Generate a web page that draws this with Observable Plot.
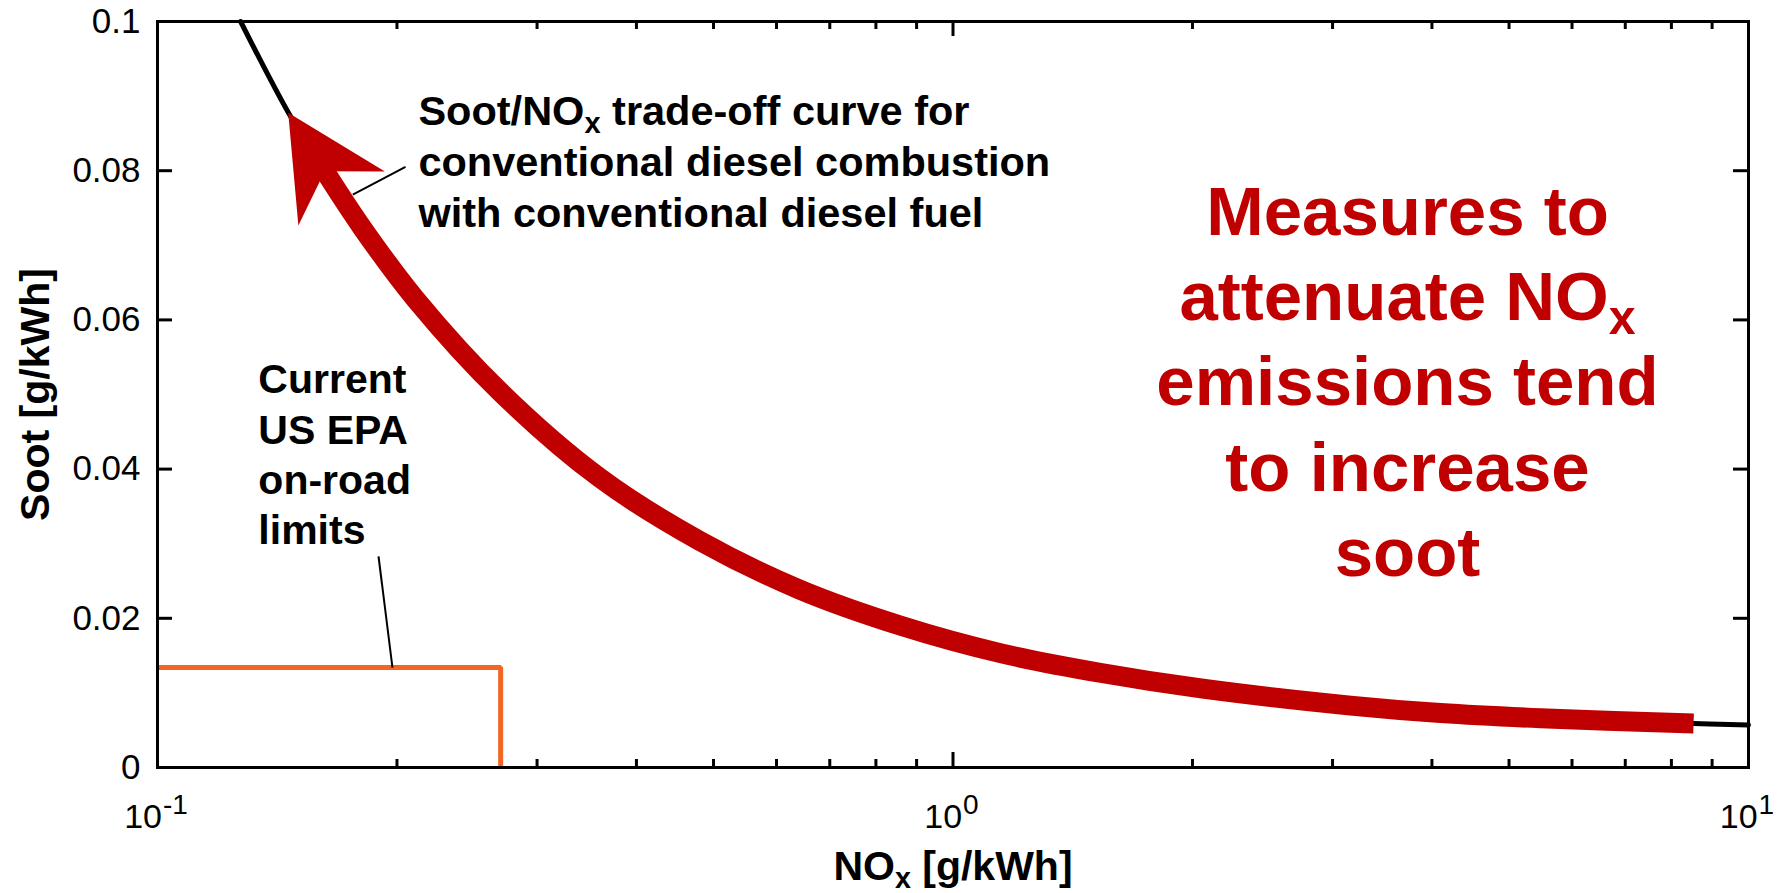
<!DOCTYPE html>
<html>
<head>
<meta charset="utf-8">
<script src="https://cdn.jsdelivr.net/npm/d3@7"></script>
<script src="https://cdn.jsdelivr.net/npm/@observablehq/plot@0.6"></script>
<style>
  html, body { margin: 0; padding: 0; background: #fff; }
  svg { display: block; }
</style>
</head>
<body>
<script>
// ---------------- data ----------------
const noxCurve  = [0.1272, 0.1462, 0.160, 0.181, 0.211, 0.27, 0.36, 0.48, 0.64, 0.86, 1.15, 1.53, 2.05, 3.16, 4.10, 5.48, 8.53, 10];
const sootCurve = [0.1000, 0.0877, 0.0810, 0.0723, 0.0628, 0.0503, 0.0388, 0.0304, 0.0239, 0.0190, 0.0153, 0.0127, 0.0106, 0.0083, 0.0073, 0.0066, 0.0059, 0.0057];
const redFrom = 2, redTo = 16;           // portion of the curve drawn as the red arrow
const epaNox = 0.27, epaSoot = 0.0134;   // US EPA on-road limits

const xMajorTicks = [0.1, 1, 10];
const xMajorExponents = ["-1", "0", "1"];
const xMinorTicks = [0.2, 0.3, 0.4, 0.5, 0.6, 0.7, 0.8, 0.9, 2, 3, 4, 5, 6, 7, 8, 9];
const yTicks = [0, 0.02, 0.04, 0.06, 0.08, 0.1];
const yTickLabels = ["0", "0.02", "0.04", "0.06", "0.08", "0.1"];

const xTitle = "NO_x [g/kWh]";
const yTitle = "Soot [g/kWh]";
const tradeoffText = "Soot/NO_x trade-off curve for\nconventional diesel combustion\nwith conventional diesel fuel";
const tradeoffAt = [0.2128, 0.0725];
const tradeoffLeader = [0.176, 0.0768, 0.205, 0.0805];
const epaText = "Current\nUS EPA\non-road\nlimits";
const epaAt = [0.1339, 0.0299];
const epaLeader = [0.1896, 0.0283, 0.1974, 0.0134];
const measuresText = "Measures to\nattenuate NO_x\nemissions tend\nto increase\nsoot";
const measuresAt = [3.727, 0.0257];

// ---------------- styles ----------------
const RED = "#C00000", ORANGE = "#F26522", INK = "#000000";
const FONT = "'Liberation Sans', Arial, Helvetica, sans-serif";

// ---------------- tables ----------------
const curve = noxCurve.map((nox, i) => ({nox, soot: sootCurve[i]}));
const redCurve = curve.slice(redFrom, redTo + 1);
const epaPath = [
  {nox: xMajorTicks[0], soot: epaSoot},
  {nox: epaNox, soot: epaSoot},
  {nox: epaNox, soot: 0}
];

// arrowhead drawn with the plot's own scales
function arrowHead(index, scales) {
  const {x, y} = scales;
  const tx = x(curve[1].nox), ty = y(curve[1].soot);
  const bx = x(curve[redFrom].nox), by = y(curve[redFrom].soot);
  let ux = bx - tx, uy = by - ty;
  const len = Math.hypot(ux, uy); ux /= len; uy /= len;
  const nx = -uy, ny = ux;
  const L = 101, W = 51, N = 69;
  const p = [
    [tx, ty],
    [tx + L * ux + W * nx, ty + L * uy + W * ny],
    [tx + N * ux, ty + N * uy],
    [tx + L * ux - W * nx, ty + L * uy - W * ny]
  ];
  return d3.create("svg:path")
    .attr("d", "M" + p.map(q => q.join(",")).join("L") + "Z")
    .attr("fill", RED)
    .node();
}

// x tick labels 10^n (base + superscript)
const xLabelMarks = xMajorTicks.flatMap((v, i) => {
  const e = xMajorExponents[i];
  const baseW = 1.112 * 34;
  const expW = 28 * [...e].reduce((s, c) => s + (c === "-" ? 0.333 : 0.556), 0);
  const baseEnd = -(baseW + expW) / 2 + baseW - 2;
  return [
    Plot.text([v], {x: d => d, text: () => "10", frameAnchor: "bottom", textAnchor: "end", lineAnchor: "bottom", dx: baseEnd, dy: 60, fontSize: 34, fill: INK}),
    Plot.text([v], {x: d => d, text: () => e, frameAnchor: "bottom", textAnchor: "start", lineAnchor: "bottom", dx: baseEnd + 1, dy: 46, fontSize: 28, fill: INK})
  ];
});

const chart = Plot.plot({
  width: 1789,
  height: 893,
  marginLeft: 157,
  marginRight: 41,
  marginTop: 21,
  marginBottom: 126,
  style: {fontFamily: FONT, background: "#fff", color: INK},
  x: {type: "log", domain: [0.1, 10], axis: null},
  y: {type: "linear", domain: [0, 0.1], axis: null},
  marks: [
    // black trade-off curve
    Plot.line(curve, {x: "nox", y: "soot", stroke: INK, strokeWidth: 5, curve: "catmull-rom"}),
    // red thick arrow along the curve
    Plot.line(redCurve, {x: "nox", y: "soot", stroke: RED, strokeWidth: 20, curve: "catmull-rom", strokeLinecap: "butt", strokeLinejoin: "round"}),
    arrowHead,
    // EPA limit box
    Plot.line(epaPath, {x: "nox", y: "soot", stroke: ORANGE, strokeWidth: 5, strokeLinejoin: "miter", strokeLinecap: "butt"}),
    // leader lines
    Plot.link([tradeoffLeader], {x1: d => d[0], y1: d => d[1], x2: d => d[2], y2: d => d[3], stroke: INK, strokeWidth: 2}),
    Plot.link([epaLeader], {x1: d => d[0], y1: d => d[1], x2: d => d[2], y2: d => d[3], stroke: INK, strokeWidth: 2}),
    // annotations
    Plot.text([tradeoffAt], {x: d => d[0], y: d => d[1], text: () => tradeoffText, textAnchor: "start", lineAnchor: "bottom", lineHeight: 1.23, fontSize: 41.5, fontWeight: "bold", fill: INK}),
    Plot.text([epaAt], {x: d => d[0], y: d => d[1], text: () => epaText, textAnchor: "start", lineAnchor: "bottom", lineHeight: 1.23, fontSize: 41, fontWeight: "bold", fill: INK}),
    Plot.text([measuresAt], {x: d => d[0], y: d => d[1], text: () => measuresText, textAnchor: "middle", lineAnchor: "bottom", lineHeight: 1.235, fontSize: 69, fontWeight: "bold", fill: RED}),
    // frame
    Plot.frame({stroke: INK, strokeWidth: 3}),
    // ticks (inward, on all four sides)
    Plot.ruleX(xMajorTicks, {x: d => d, y1: 0, y2: 0, insetTop: -15, stroke: INK, strokeWidth: 3}),
    Plot.ruleX(xMinorTicks, {x: d => d, y1: 0, y2: 0, insetTop: -8, stroke: INK, strokeWidth: 3}),
    Plot.ruleX(xMajorTicks, {x: d => d, y1: 0.1, y2: 0.1, insetBottom: -15, stroke: INK, strokeWidth: 3}),
    Plot.ruleX(xMinorTicks, {x: d => d, y1: 0.1, y2: 0.1, insetBottom: -8, stroke: INK, strokeWidth: 3}),
    Plot.ruleY(yTicks, {y: d => d, x1: 0.1, x2: 0.1, insetRight: -15, stroke: INK, strokeWidth: 3}),
    Plot.ruleY(yTicks, {y: d => d, x1: 10, x2: 10, insetLeft: -15, stroke: INK, strokeWidth: 3}),
    // tick labels
    Plot.text(yTicks, {y: d => d, text: (d, i) => yTickLabels[i], frameAnchor: "left", textAnchor: "end", lineAnchor: "middle", dx: -17, fontSize: 35, fill: INK}),
    ...xLabelMarks,
    // axis titles
    Plot.text([xTitle], {text: d => d, frameAnchor: "bottom", textAnchor: "middle", lineAnchor: "bottom", dy: 112, fontSize: 41, fontWeight: "bold", fill: INK}),
    Plot.text([yTitle], {text: d => d, frameAnchor: "left", textAnchor: "middle", lineAnchor: "middle", rotate: -90, dx: -122, fontSize: 41, fontWeight: "bold", fill: INK})
  ]
});

document.body.appendChild(chart);

// render "_x" as a subscript x
(function subscriptify(root) {
  const ns = "http://www.w3.org/2000/svg";
  const nodes = [...root.querySelectorAll("text, tspan")].filter(n =>
    [...n.childNodes].some(c => c.nodeType === 3 && c.nodeValue.includes("_x")));
  for (const n of nodes) {
    const fs = parseFloat(getComputedStyle(n).fontSize);
    for (const c of [...n.childNodes]) {
      if (c.nodeType !== 3 || !c.nodeValue.includes("_x")) continue;
      const parts = c.nodeValue.split("_x");
      const frag = document.createDocumentFragment();
      parts.forEach((p, i) => {
        if (i > 0) {
          const s = document.createElementNS(ns, "tspan");
          s.setAttribute("font-size", (0.7 * fs) + "px");
          s.setAttribute("baseline-shift", (-0.2 * fs) + "px");
          s.textContent = "x";
          frag.appendChild(s);
        }
        if (p) frag.appendChild(document.createTextNode(p));
      });
      n.replaceChild(frag, c);
    }
  }
})(chart);
</script>
</body>
</html>
